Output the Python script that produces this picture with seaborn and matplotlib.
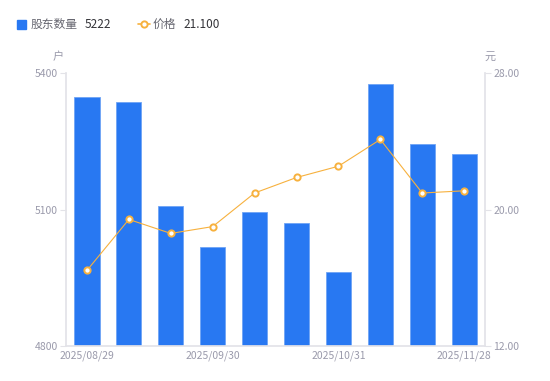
import numpy as np
import pandas as pd
import matplotlib
matplotlib.use("Agg")
import matplotlib.pyplot as plt
import seaborn as sns
from matplotlib.patches import Rectangle
from matplotlib.lines import Line2D

# data
dates = ["2025/08/29", "2025/09/10", "2025/09/19", "2025/09/30", "2025/10/10",
         "2025/10/20", "2025/10/31", "2025/11/10", "2025/11/20", "2025/11/28"]
holders = [5347, 5336, 5108, 5018, 5094, 5070, 4963, 5377, 5245, 5222]
prices = [16.43, 19.42, 18.60, 19.00, 20.97, 21.88, 22.54, 24.11, 20.97, 21.10]
tick_every = 3

BLUE = "#2878F2"
ORANGE = "#F7B13E"
GRAY = "#9A9AAB"
AXIS = "#E3E3E8"

sns.set_theme(style="white")
plt.rcParams["font.family"] = ["Noto Sans CJK SC", "DejaVu Sans"]

df = pd.DataFrame({"date": dates, "holders": holders, "price": prices})
df["pos"] = np.arange(len(df))

fig = plt.figure(figsize=(5.5, 3.81), dpi=100)
ax = fig.add_axes([0.12, 0.092, 0.762, 0.716])

sns.barplot(data=df, x="date", y="holders", color=BLUE, saturation=1,
            width=0.6, edgecolor="#6FA4F5", linewidth=0.6, ax=ax)
ax.set_ylim(4800, 5400)
ax.set_yticks([4800, 5100, 5400])
ax.set_xlim(-0.5, len(df) - 0.5)
ax.set_xticks(df["pos"][::tick_every])
ax.set_xticklabels(df["date"][::tick_every])
ax.set_xlabel("")
ax.set_ylabel("")

ax2 = ax.twinx()
sns.lineplot(data=df, x="pos", y="price", color=ORANGE, linewidth=0.8,
             marker="o", markersize=4.5, markerfacecolor="white",
             markeredgecolor=ORANGE, markeredgewidth=1.4, ax=ax2)
ax2.set_ylim(12, 28)
ax2.set_yticks([12, 20, 28])
ax2.set_yticklabels(["12.00", "20.00", "28.00"])
ax2.set_xlabel("")
ax2.set_ylabel("")

for a in (ax, ax2):
    for s in a.spines.values():
        s.set_visible(False)
    a.grid(False)
ax.spines["left"].set_visible(True)
ax.spines["left"].set_color(AXIS)
ax.spines["bottom"].set_visible(True)
ax.spines["bottom"].set_color(AXIS)
ax2.spines["right"].set_visible(True)
ax2.spines["right"].set_color(AXIS)

ax.tick_params(axis="y", colors=AXIS, labelcolor=GRAY, labelsize=7.5,
               length=4, width=0.8, pad=2, left=True)
ax.tick_params(axis="x", colors=AXIS, labelcolor=GRAY, labelsize=7.5,
               length=0, pad=3)
ax2.tick_params(axis="y", colors=AXIS, labelcolor=GRAY, labelsize=7.5,
                length=4, width=0.8, pad=2, right=True)

# axis unit labels
fig.text(58 / 550, 1 - 57 / 381, "户", color=GRAY, fontsize=8, ha="center", va="center")
fig.text(490 / 550, 1 - 57 / 381, "元", color=GRAY, fontsize=8, ha="center", va="center")

# legend row
ly = 1 - 24 / 381
fig.add_artist(Rectangle((17 / 550, ly - 4.5 / 381), 9 / 550, 9 / 381,
                         transform=fig.transFigure, color=BLUE))
fig.text(31 / 550, ly, "股东数量", color="#666670", fontsize=8.5, va="center")
fig.text(85 / 550, ly, str(holders[-1]), color="#333338", fontsize=8.5, va="center")
fig.add_artist(Line2D([138 / 550, 150 / 550], [ly, ly], transform=fig.transFigure,
                      color=ORANGE, linewidth=1.2))
fig.add_artist(Line2D([144 / 550], [ly], transform=fig.transFigure, marker="o",
                      markersize=4.5, markerfacecolor="white", markeredgecolor=ORANGE,
                      markeredgewidth=1.4))
fig.text(153 / 550, ly, "价格", color="#666670", fontsize=8.5, va="center")
fig.text(183 / 550, ly, f"{prices[-1]:.3f}", color="#333338", fontsize=8.5, va="center")

fig.savefig("out.png", dpi=100)
